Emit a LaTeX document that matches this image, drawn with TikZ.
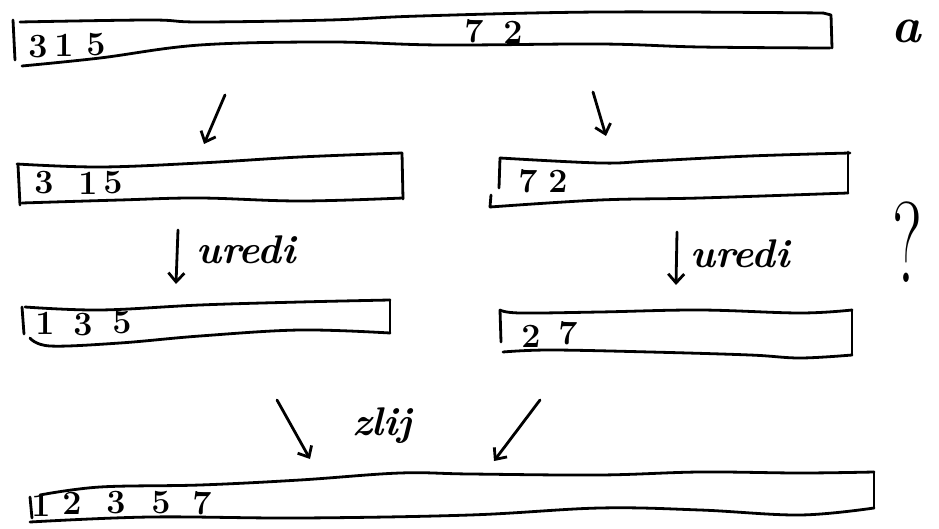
\documentclass[tikz,border=0pt]{standalone}
\usepackage{fontspec}
\usetikzlibrary{arrows.meta}
\begin{document}
\begin{tikzpicture}[x=1pt,y=-1pt,
  ink/.style={line width=2.8pt,line cap=round,line join=round},
  wob/.style={ink,smooth,tension=0.6},
  arr/.style={ink,-{Straight Barb[length=9pt,width=16pt,line width=2.8pt]}},
  num/.style={inner sep=0pt,font=\fontsize{34}{36}\selectfont\bfseries},
  lab/.style={inner sep=0pt,font=\fontsize{40}{42}\selectfont\itshape\bfseries}]
\useasboundingbox (0,0) rectangle (939,529);
% ---------- top box
\draw[ink] (13,20) -- (15,60);
\draw[wob] plot coordinates {(20,22) (150,20) (200,22) (330,20) (420,16) (600,12) (823,13)};
\draw[ink] (823,13) -- (831,15) -- (832,48);
\draw[wob] plot coordinates {(22,66) (100,58) (200,45) (330,42) (440,45) (600,44) (700,47) (830,48)};
\node[num] (t3) at (38,47) {3};
\node[num] (t1) at (64,45) {1};
\node[num] (t5) at (96,45) {5};
\node[num] (t7) at (474,31) {7};
\node[num] (t2) at (513,32) {2};
\node[inner sep=0pt,font=\fontsize{50}{52}\selectfont\itshape\bfseries] (a) at (906,31) {a};
% ---------- split arrows
\coordinate (sl1) at (225,95); \coordinate (sl2) at (204,144);
\coordinate (sr1) at (593,92); \coordinate (sr2) at (606,136);
\draw[arr] (sl1) -- (sl2);
\draw[arr] (sr1) -- (sr2);
% ---------- middle left box
\draw[ink] (18,165) -- (20,205);
\draw[wob] plot coordinates {(17,164) (100,167) (200,163) (300,157) (402,153)};
\draw[ink] (402,153) -- (403,199);
\draw[wob] plot coordinates {(22,203) (120,200) (200,198) (300,201) (403,198)};
\node[num] (m3) at (44,183) {3};
\node[num] (m1) at (88,183) {1};
\node[num] (m5) at (113,183) {5};
% ---------- middle right box
\draw[ink] (500,158) -- (499,188);
\draw[ink] (491,195) -- (490,207);
\draw[wob] plot coordinates {(500,158) (600,163) (650,161) (750,156) (850,153)};
\draw[ink] (848,152) -- (848,193);
\draw[wob] plot coordinates {(490,207) (600,200) (700,198) (848,193)};
\node[num] (n7) at (528,181) {7};
\node[num] (n2) at (558,181) {2};
% ---------- question mark
\node[inner sep=0pt,xscale=0.6,font=\fontsize{115}{118}\selectfont] (q) at (907,242) {?};
% ---------- uredi arrows
\coordinate (ul1) at (178,230); \coordinate (ul2) at (176,284);
\coordinate (ur1) at (677,232); \coordinate (ur2) at (676,285);
\draw[arr] (ul1) -- (ul2);
\draw[arr] (ur1) -- (ur2);
\node[lab,anchor=west] (u1) at (196,250) {uredi};
\node[lab,anchor=west] (u2) at (690,254) {uredi};
% ---------- third row left
\draw[ink] (22,307) -- (24,334);
\draw[wob] plot coordinates {(25,307) (100,310) (200,305) (300,302) (390,300)};
\draw[ink] (390,300) -- (390,333);
\draw[wob] plot coordinates {(30,338) (50,346) (120,343) (200,336) (300,330) (390,333)};
\node[num] (p1) at (45,323) {1};
\node[num] (p3) at (83,325) {3};
\node[num] (p5) at (122,323) {5};
% ---------- third row right
\draw[ink] (500,310) -- (501,342);
\draw[wob] plot coordinates {(500,310) (520,313) (600,312) (700,310) (800,313) (852,310)};
\draw[ink] (852,310) -- (852,355);
\draw[wob] plot coordinates {(503,352) (550,350) (650,352) (750,355) (800,358) (852,355)};
\node[num] (r2) at (531,336) {2};
\node[num] (r7) at (568,333) {7};
% ---------- merge arrows
\coordinate (zl1) at (277,400); \coordinate (zl2) at (310,459);
\coordinate (zr1) at (540,400); \coordinate (zr2) at (494,461);
\draw[arr] (zl1) -- (zl2);
\draw[arr] (zr1) -- (zr2);
\node[lab] (z) at (382,426) {zlij};
% ---------- bottom box
\draw[ink] (30,497) -- (32,518);
\draw[wob] plot coordinates {(40,495) (100,487) (200,485) (300,480) (400,473) (470,474) (600,475) (700,472) (800,473) (874,472)};
\draw[ink] (874,472) -- (874,508);
\draw[wob] plot coordinates {(30,522) (150,517) (300,518) (470,515) (600,508) (700,510) (800,515) (874,508)};
\node[num] (b1) at (41,505) {1};
\node[num] (b2) at (72,503) {2};
\node[num] (b3) at (116,503) {3};
\node[num] (b5) at (161,503) {5};
\node[num] (b7) at (202,503) {7};
\end{tikzpicture}
\end{document}
